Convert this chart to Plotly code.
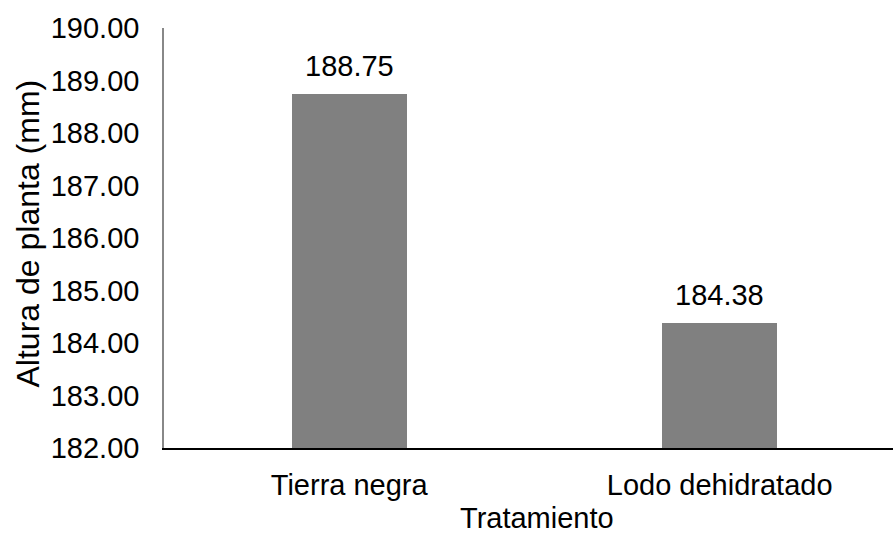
import plotly.graph_objects as go

categories = ["Tierra negra", "Lodo dehidratado"]
values = [188.75, 184.38]
y_ticks = [182, 183, 184, 185, 186, 187, 188, 189, 190]

FONT = "Liberation Sans, Arial, sans-serif"
FS = 29

fig = go.Figure()
fig.add_trace(go.Bar(
    x=[0, 1], y=values, width=0.31,
    marker=dict(color="#808080", line=dict(width=0)),
    cliponaxis=False,
))
for i, v in enumerate(values):
    fig.add_annotation(x=i, y=v, text=f"{v:.2f}", showarrow=False,
                       yanchor="bottom", yshift=10,
                       font=dict(size=FS, color="#000000", family=FONT))
# axis titles
fig.add_annotation(text="Tratamiento", xref="paper", yref="paper",
                   x=0.512, y=-0.167, xanchor="center", yanchor="middle",
                   showarrow=False, font=dict(size=29, color="#000000", family=FONT))
fig.add_annotation(text="Altura de planta (mm)", xref="paper", yref="paper",
                   x=-0.187, y=0.51, xanchor="center", yanchor="middle",
                   textangle=-90, showarrow=False,
                   font=dict(size=32, color="#000000", family=FONT))
fig.update_layout(
    width=894, height=536,
    margin=dict(l=164, r=1, t=28, b=88),
    paper_bgcolor="white", plot_bgcolor="white",
    showlegend=False,
    font=dict(family=FONT, size=FS, color="#000000"),
    bargap=0,
)
fig.update_xaxes(
    range=[-0.5, 1.468], tickmode="array", tickvals=[0, 1], ticktext=categories,
    showline=True, linecolor="#000000", linewidth=1.5, showgrid=False, ticks="",
    ticklabelstandoff=10, zeroline=False,
)
fig.update_yaxes(
    range=[182, 190], tickmode="array", tickvals=y_ticks,
    ticktext=[f"{t:.2f}" for t in y_ticks],
    showline=True, linecolor="#888888", linewidth=1.5, showgrid=False, ticks="",
    ticklabelstandoff=17, zeroline=False,
)
fig.write_html("out.html")
